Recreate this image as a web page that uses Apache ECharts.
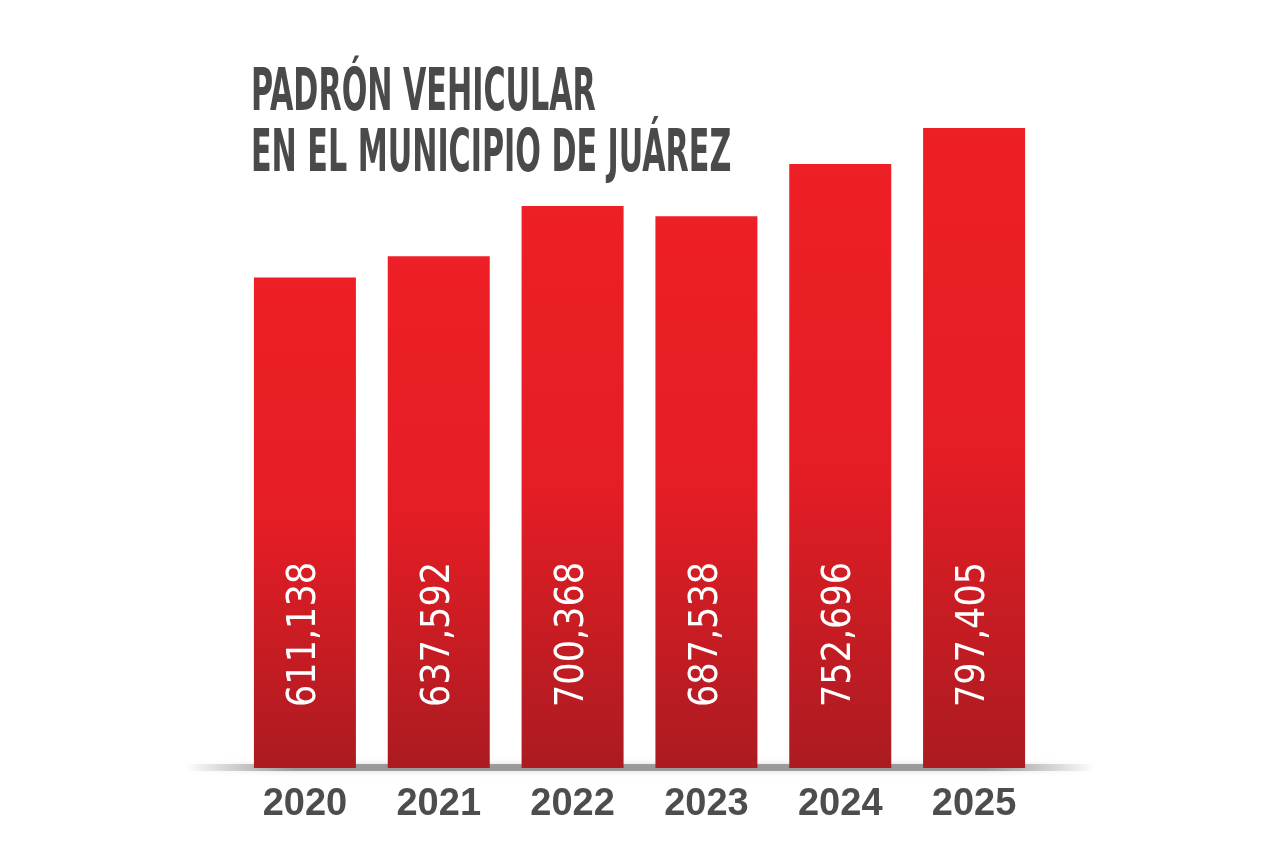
<!DOCTYPE html>
<html>
<head>
<meta charset="utf-8">
<script src="https://cdn.jsdelivr.net/npm/echarts@6/dist/echarts.min.js"></script>
<style>
html,body{margin:0;padding:0;background:#fff;}
#main{width:1280px;height:853px;}
</style>
</head>
<body>
<div id="main"></div>
<script>
var years = ['2020', '2021', '2022', '2023', '2024', '2025'];
var vehiculos = [611138, 637592, 700368, 687538, 752696, 797405];

var narrow = '"DejaVu Sans Condensed", "Liberation Sans Narrow", "Liberation Sans", sans-serif';

var myChart = echarts.init(document.getElementById('main'));
var options = {
    backgroundColor: '#ffffff',
    grid: {
        left: 238,
        right: 239,
        top: 126,
        bottom: 85
    },
    graphic: [
        {
            // titulo (fuente estrecha simulada con scaleX)
            type: 'text',
            x: 251,
            y: 64,
            scaleX: 0.578,
            z: 10,
            style: {
                text: 'PADRÓN VEHICULAR\nEN EL MUNICIPIO DE JUÁREZ',
                font: 'bold 58px ' + narrow,
                lineHeight: 61,
                fill: '#4a4a4a'
            }
        },
        {
            // sombra bajo las barras
            type: 'rect',
            z: 0,
            shape: { x: 185, y: 764, width: 910, height: 7, r: 3 },
            style: {
                fill: new echarts.graphic.LinearGradient(0, 0, 1, 0, [
                    { offset: 0, color: 'rgba(80,80,80,0)' },
                    { offset: 0.12, color: 'rgba(80,80,80,0.5)' },
                    { offset: 0.88, color: 'rgba(80,80,80,0.5)' },
                    { offset: 1, color: 'rgba(80,80,80,0)' }
                ]),
                shadowBlur: 6,
                shadowColor: 'rgba(0,0,0,0.3)'
            }
        }
    ],
    xAxis: {
        type: 'category',
        data: years,
        axisLine: { show: false },
        axisTick: { show: false },
        axisLabel: {
            margin: 18,
            fontFamily: '"Liberation Sans", Arial, sans-serif',
            fontWeight: 'bold',
            fontSize: 38,
            color: '#4d4d4d'
        }
    },
    yAxis: {
        type: 'value',
        min: 0,
        max: 800000,
        show: false,
        splitLine: { show: false }
    },
    series: [
        {
            name: 'Padrón vehicular',
            type: 'bar',
            barWidth: 102,
            z: 2,
            data: vehiculos,
            itemStyle: {
                color: new echarts.graphic.LinearGradient(0, 0, 0, 1, [
                    { offset: 0, color: '#ee1f26' },
                    { offset: 0.5, color: '#e51d25' },
                    { offset: 1, color: '#ab1b21' }
                ])
            },
            label: {
                show: true,
                position: 'insideBottom',
                distance: 61,
                rotate: 90,
                align: 'left',
                verticalAlign: 'middle',
                fontFamily: narrow,
                fontSize: 39,
                color: '#ffffff',
                formatter: function (p) {
                    return p.value.toLocaleString('en-US');
                }
            }
        }
    ]
};
myChart.setOption(options);
</script>
</body>
</html>
